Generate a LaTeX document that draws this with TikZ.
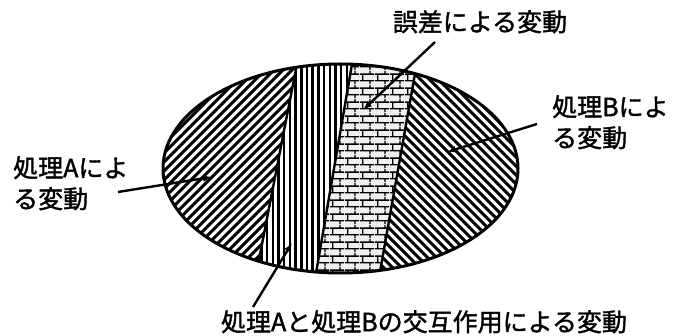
\documentclass[tikz,border=0pt]{standalone}
\usepackage{fontspec}
\setmainfont{Noto Sans CJK JP}[FakeBold=1.5]
\usetikzlibrary{patterns,patterns.meta,arrows.meta}
\pgfdeclarepattern{
  name=bricks, type=uncolored,
  bottom left={\pgfpoint{0pt}{0pt}}, top right={\pgfpoint{15pt}{14pt}},
  tile size={\pgfpoint{15pt}{14pt}},
  code={
    \pgfsetlinewidth{1.4pt}
    \pgfpathmoveto{\pgfpoint{0pt}{3.5pt}}\pgfpathlineto{\pgfpoint{15pt}{3.5pt}}
    \pgfpathmoveto{\pgfpoint{0pt}{10.5pt}}\pgfpathlineto{\pgfpoint{15pt}{10.5pt}}
    \pgfpathmoveto{\pgfpoint{3pt}{3.5pt}}\pgfpathlineto{\pgfpoint{3pt}{10.5pt}}
    \pgfpathmoveto{\pgfpoint{10.5pt}{10.5pt}}\pgfpathlineto{\pgfpoint{10.5pt}{14pt}}
    \pgfpathmoveto{\pgfpoint{10.5pt}{0pt}}\pgfpathlineto{\pgfpoint{10.5pt}{3.5pt}}
    \pgfusepath{stroke}
  }
}
\begin{document}
\begin{tikzpicture}[x=1pt,y=-1pt,
  lbl/.style={font=\fontsize{25}{31}\selectfont, inner sep=0pt, align=left},
  arr/.style={line width=2.4pt, -{Latex[length=9pt,width=7pt]}},
  divider/.style={line width=2.4pt},
  hatch/.style={line width=3pt},
  vhatch/.style={line width=2.5pt},
  outline/.style={line width=3pt}]
\useasboundingbox (0,0) rectangle (675,336);
\begin{scope}
  \clip (340.5,168.5) ellipse [x radius=177.5, y radius=104.5];
  % left region: lines rising to the right
  \begin{scope}
    \clip (150,50) -- (299.7,50) -- (253.1,290) -- (150,290) -- cycle;
    \foreach \c in {200,209,...,600} {\draw[hatch] (\c-300,300) -- (\c-40,40);}
  \end{scope}
  % interaction region: vertical lines
  \begin{scope}
    \clip (299.7,50) -- (354.4,50) -- (313.1,290) -- (253.1,290) -- cycle;
    \foreach \x in {250,255.7,...,360} {\draw[vhatch] (\x,40) -- (\x,300);}
  \end{scope}
  % error region: bricks
  \fill[gray!12] (354.4,50) -- (419.2,50) -- (376.8,290) -- (313.1,290) -- cycle;
  \fill[pattern=bricks] (354.4,50) -- (419.2,50) -- (376.8,290) -- (313.1,290) -- cycle;
  % right region: lines falling to the right
  \begin{scope}
    \clip (419.2,50) -- (530,50) -- (530,290) -- (376.8,290) -- cycle;
    \foreach \c in {80,89,...,500} {\draw[hatch] (\c+40,40) -- (\c+300,300);}
  \end{scope}
  \draw[divider] (299.7,50) -- (253.1,290);
  \draw[divider] (354.4,50) -- (313.1,290);
  \draw[divider] (419.2,50) -- (376.8,290);
\end{scope}
\draw[outline] (340.5,168.5) ellipse [x radius=177.5, y radius=104.5];

\node[lbl, anchor=north west] (la) at (13,156) {処理Aによ\\る変動};
\node[lbl, anchor=north west] (lb) at (552,95) {処理Bによ\\る変動};
\node[lbl, anchor=north] (le) at (480,10) {誤差による変動};
\node[lbl, anchor=north] (li) at (424,310) {処理Aと処理Bの交互作用による変動};

\coordinate (sa) at (118,192); \coordinate (ta) at (212,177);
\coordinate (sb) at (537,124); \coordinate (tb) at (447,152);
\coordinate (se) at (435,42);  \coordinate (te) at (363,110);
\coordinate (si) at (253,307); \coordinate (ti) at (292,243);
\draw[arr] (sa) -- (ta);
\draw[arr] (sb) -- (tb);
\draw[arr] (se) -- (te);
\draw[arr] (si) -- (ti);
\end{tikzpicture}
\end{document}
